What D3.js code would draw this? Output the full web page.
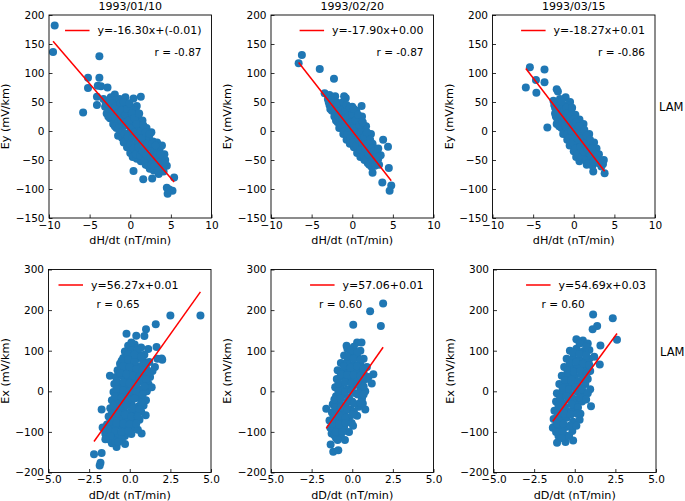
<!DOCTYPE html>
<html><head><meta charset="utf-8">
<script src="https://cdn.jsdelivr.net/npm/d3@7"></script>
<style>
body{margin:0;background:#fff;}
text{font-family:"DejaVu Sans",sans-serif;}
</style></head>
<body><svg id="c" width="685" height="501"></svg>
<script>
// ---------- data ----------
const titles = ["1993/01/10", "1993/02/20", "1993/03/15"];
const rowLabel = "LAM";
const xLabels = ["dH/dt (nT/min)", "dD/dt (nT/min)"];
const yLabels = ["Ey (mV/km)", "Ex (mV/km)"];
const slopes = [-16.30, -17.90, -18.27, 56.27, 57.06, 54.69];
const intercepts = [-0.01, 0.00, 0.01, 0.01, 0.01, 0.03];
const legendLabels = ["y=-16.30x+(-0.01)", "y=-17.90x+0.00", "y=-18.27x+0.01",
                      "y=56.27x+0.01", "y=57.06+0.01", "y=54.69x+0.03"];
const rLabels = ["r = -0.87", "r = -0.87", "r = -0.86", "r = 0.65", "r = 0.60", "r = 0.60"];
const topXTicks = [-10, -5, 0, 5, 10];
const topYTicks = [-150, -100, -50, 0, 50, 100, 150, 200];
const botXTicks = [-5, -2.5, 0, 2.5, 5];
const botYTicks = [-200, -100, 0, 100, 200, 300];

const ey0110 = [
[-9.3,182],[-9.5,136],[-3.8,129],[-5.2,92],[-3.8,92],[-5.2,74],[-4.0,78],[-3.6,77],[-2.8,75],[-5.8,32],[-4.1,59],[-4.1,45],[0.4,56],[1.3,59],[-1.9,63],[0.8,43],
[0.4,-69],[1.6,-83],[2.7,-82],[3.5,-74],[4.5,-60],[5.4,-80],[4.5,-98],[4.6,-108],[5.2,-103],[4.8,-101],[2.7,-40],[3.7,-44],[4.1,-62],[3.2,-62],[4.3,-50],
[-3.3,55],[-3.1,42],[-2.9,30],[-2.8,50],[-2.6,38],[-2.5,22],[-2.4,58],[-2.3,45],[-2.2,30],[-2.1,12],[-2.0,40],[-1.9,52],[-1.8,22],[-1.7,5],[-1.7,35],[-1.6,47],[-1.5,-8],[-1.5,15],[-1.4,28],[-1.3,55],[-1.3,40],[-1.2,3],[-1.1,20],[-1.0,-12],[-1.0,48],[-0.9,32],[-0.9,8],[-0.8,-20],[-0.7,15],[-0.7,40],[-0.6,58],[-0.5,-5],[-0.5,25],[-0.4,-28],[-0.3,10],[-0.3,45],[-0.2,32],[-0.1,-15],[0.0,0],[0.0,-38],[0.1,20],[0.1,40],[0.2,-25],[0.3,8],[0.3,-45],[0.4,28],[0.5,-10],[0.6,-32],[0.6,15],[0.7,35],[0.8,-48],[0.8,0],[0.9,-20],[1.0,22],[1.1,-38],[1.1,8],[1.2,-8],[1.3,-52],[1.4,-25],[1.5,18],[1.6,-5],[1.7,-40],[1.8,-15],[1.9,-58],[2.0,5],[2.0,-30],[2.2,-48],[2.3,-12],[2.4,-65],[2.5,-28],[2.6,-2],[2.7,-52],[2.8,-18],[2.9,-68],[3.0,-35],[3.2,-50],[3.3,-20],[3.5,-60],[3.6,-32],[3.8,-48],[3.9,-25],[4.1,-70],[4.2,-40],
[-3.0,48],[-2.7,25],[-2.5,52],[-2.2,48],[-2.0,28],[-1.9,8],[-1.8,42],[-1.6,30],[-1.4,5],[-1.2,48],[-1.1,35],[-1.0,0],[-0.9,22],[-0.8,50],[-0.7,-5],[-0.6,28],[-0.5,12],[-0.4,38],[-0.3,-10],[-0.2,18],[-0.1,48],[0.0,-22],[0.1,5],[0.2,30],[0.3,-12],[0.4,-30],[0.5,22],[0.6,-2],[0.7,-40],[0.8,12],[0.9,-10],[1.0,-28],[1.1,30],[1.2,-42],[1.3,0],[1.4,-12],[1.5,-35],[1.6,10],[1.7,-25],[1.8,-50],[1.9,-2],[2.0,-42],[2.1,-22],[2.2,-60],[2.4,-5],[2.5,-45],[2.6,-58],[2.7,-22],[2.9,-45],[3.0,-60],[3.1,-25],[3.3,-40],[3.4,-68],[3.7,-40],[4.0,-55]
];
const ey0220 = [
[-6.2,131],[-6.6,117],[-4.0,107],[-2.25,90],[-3.4,65],[-2.8,62],[-2.1,60],[-0.8,57],[-1.0,60],[1.15,43],[3.8,-15],[4.4,-27],[4.5,-64],[3.7,-89],[4.8,-94],[4.6,-103],[2.8,-56],[2.5,-72],[3.2,-48],
[-3.0,55],[-2.8,45],[-2.6,52],[-2.5,35],[-2.3,42],[-2.2,25],[-2.0,50],[-1.9,32],[-1.8,15],[-1.7,40],[-1.6,5],[-1.5,25],[-1.4,48],[-1.3,12],[-1.2,35],[-1.1,-5],[-1.0,20],[-1.0,45],[-0.9,5],[-0.8,30],[-0.7,-15],[-0.6,15],[-0.5,38],[-0.5,-2],[-0.4,22],[-0.3,-22],[-0.2,8],[-0.1,30],[0.0,-10],[0.0,42],[0.1,15],[0.2,-28],[0.3,0],[0.3,28],[0.4,-15],[0.5,35],[0.6,-38],[0.6,10],[0.7,-5],[0.8,20],[0.9,-25],[1.0,-45],[1.0,5],[1.1,-12],[1.2,25],[1.3,-32],[1.4,-2],[1.5,-50],[1.6,-18],[1.7,8],[1.8,-38],[1.9,-55],[2.0,-10],[2.1,-28],[2.2,-45],[2.3,-5],[2.4,-62],[2.5,-22],[2.6,-40],[2.8,-30],[2.9,-52],[3.1,-38],[3.3,-58],[3.5,-42],
[-2.9,50],[-2.7,38],[-2.4,48],[-2.1,35],[-2.0,18],[-1.8,48],[-1.7,25],[-1.5,10],[-1.4,35],[-1.2,20],[-1.1,50],[-1.0,0],[-0.9,35],[-0.8,12],[-0.7,45],[-0.6,-5],[-0.5,25],[-0.4,5],[-0.3,40],[-0.2,-12],[-0.1,15],[0.0,30],[0.1,-20],[0.2,5],[0.2,38],[0.4,18],[0.5,-25],[0.6,-5],[0.7,28],[0.8,-15],[0.9,10],[1.0,-32],[1.1,-2],[1.2,-20],[1.3,15],[1.4,-42],[1.5,-10],[1.6,-30],[1.7,-48],[1.8,-2],[1.9,-22],[2.0,-40],[2.1,-58],[2.2,-15],[2.4,-30],[2.5,-50],[2.7,-35],[2.8,-60],[3.0,-45],[3.2,-30]
];
const ey0315 = [
[-5.4,110],[-5.9,75],[-3.6,106],[-4.65,88],[-4.6,66],[-3.6,84],[-3.25,6],[-2.1,72],[-1.95,68],[-1.0,58],[-0.45,50],[3.7,-50],[3.8,-73],[2.4,-70],[3.4,-61],[3.6,-57],
[-2.5,52],[-2.3,40],[-2.2,25],[-2.1,12],[-2.0,48],[-1.9,32],[-1.8,18],[-1.7,55],[-1.6,38],[-1.5,5],[-1.4,25],[-1.3,45],[-1.2,12],[-1.1,-2],[-1.0,32],[-0.9,18],[-0.8,-15],[-0.8,45],[-0.7,5],[-0.6,28],[-0.5,-25],[-0.4,12],[-0.3,38],[-0.2,-5],[-0.1,22],[0.0,-35],[0.0,8],[0.1,-15],[0.2,28],[0.3,-2],[0.3,-45],[0.4,15],[0.5,-25],[0.6,5],[0.7,-52],[0.7,20],[0.8,-12],[0.9,-35],[1.0,0],[1.1,-22],[1.2,12],[1.3,-48],[1.4,-8],[1.5,-30],[1.6,-58],[1.7,-15],[1.8,-40],[1.9,-5],[2.0,-52],[2.1,-25],[2.3,-60],[2.4,-38],[2.5,-20],[2.7,-48],[2.8,-30],[3.0,-55],[3.1,-40],
[-2.4,45],[-2.3,30],[-2.0,20],[-1.9,42],[-1.8,8],[-1.6,28],[-1.5,50],[-1.4,15],[-1.3,-5],[-1.2,35],[-1.1,22],[-1.0,8],[-0.9,40],[-0.8,-5],[-0.7,30],[-0.6,15],[-0.5,-12],[-0.4,25],[-0.3,0],[-0.2,40],[-0.1,-20],[0.0,20],[0.1,-2],[0.2,-30],[0.3,15],[0.4,-12],[0.5,-40],[0.6,-15],[0.7,8],[0.8,-28],[0.9,-5],[1.0,-45],[1.1,-12],[1.2,-35],[1.3,2],[1.4,-22],[1.5,-50],[1.6,-8],[1.7,-32],[1.8,-55],[2.0,-15],[2.1,-42],[2.2,-30],[2.4,-52],[2.6,-40],[2.9,-42],[3.2,-50]
];
const ex0110 = [
[4.35,187],[2.5,187],[1.6,165],[1.0,153],[-0.2,142],[0.4,137],[0.9,136],[-1.22,38],[-1.73,-45],[-1.67,-89],[-2.2,-155],[-1.73,-152],[-1.8,-176],[-1.85,-183],[-0.29,-130],[-0.81,-137],[0.98,-59],[0.73,-104],[1.65,109],[1.14,104],[1.96,81],[1.55,60],[1.7,80],[2.0,78],[-1.5,-105],[-1.1,-128],
[-0.1,112],[0.3,115],[0.7,108],[-0.3,98],[0.1,100],[0.5,95],[0.9,90],[-0.4,82],[0.0,85],[0.4,80],[0.8,78],[1.2,72],[-0.6,68],[-0.2,70],[0.2,65],[0.6,62],[1.0,58],[1.4,50],[-0.75,52],[-0.35,55],[0.05,50],[0.45,45],[0.85,42],[1.25,35],[-0.85,35],[-0.45,38],[-0.05,30],[0.35,28],[0.75,25],[1.15,18],[-0.95,18],[-0.55,15],[-0.15,10],[0.25,12],[0.65,5],[1.05,0],[1.35,10],[-1.0,-2],[-0.6,-5],[-0.2,-12],[0.2,-8],[0.6,-15],[1.0,-22],[-1.1,-22],[-0.7,-28],[-0.3,-25],[0.1,-32],[0.5,-38],[0.85,-35],[-1.2,-42],[-0.8,-48],[-0.4,-45],[0.0,-52],[0.4,-58],[0.7,-50],[-1.3,-62],[-0.9,-68],[-0.5,-65],[-0.1,-72],[0.3,-75],[0.6,-70],[-1.4,-82],[-1.0,-88],[-0.6,-85],[-0.2,-92],[0.2,-90],[0.5,-95],[-1.5,-100],[-1.1,-105],[-0.7,-108],[-0.3,-110],[0.1,-105],[-1.3,-118],[-0.9,-122],[-0.5,-118],
[0.1,120],[0.5,102],[-0.1,92],[0.3,90],[0.7,85],[-0.5,75],[-0.1,78],[0.3,72],[1.0,68],[-0.4,62],[0.0,60],[0.4,55],[0.8,52],[1.2,45],[-0.6,45],[-0.2,42],[0.2,38],[0.6,35],[1.0,30],[-0.8,25],[-0.4,22],[0.0,20],[0.4,18],[0.9,12],[-0.8,5],[-0.4,2],[0.0,0],[0.4,-2],[0.8,-8],[-0.9,-12],[-0.5,-15],[-0.1,-20],[0.3,-18],[0.7,-28],[-1.0,-35],[-0.6,-38],[-0.2,-35],[0.2,-42],[0.6,-45],[-1.1,-55],[-0.7,-55],[-0.3,-58],[0.1,-62],[0.5,-62],[-1.2,-75],[-0.8,-78],[-0.4,-80],[0.0,-82],[0.4,-80],[-1.3,-95],[-0.9,-98],[-0.5,-100],[-0.1,-98],[-1.2,-110],[-0.7,-125],[-1.5,-118],[-1.6,-90]
];
const ex0220 = [
[1.9,216],[1.1,197],[1.76,161],[0.06,164],[-0.35,112],[0.3,120],[0.57,120],[-1.6,-43],[1.3,42],[1.2,19],[-1.17,-149],[-1.33,-131],[-1.27,-104],[-0.04,-78],[-0.86,-145],[0.8,-45],[-1.0,-115],
[-0.3,105],[0.1,110],[0.5,100],[-0.5,88],[-0.1,92],[0.3,85],[0.7,80],[-0.7,70],[-0.3,72],[0.1,65],[0.5,70],[0.9,60],[-0.9,52],[-0.5,55],[-0.1,48],[0.3,52],[0.7,45],[1.0,35],[-0.95,30],[-0.6,35],[-0.2,28],[0.2,32],[0.6,25],[-1.05,10],[-0.7,12],[-0.3,5],[0.1,15],[0.5,8],[0.8,0],[-1.0,-12],[-0.6,-8],[-0.2,-15],[0.2,-5],[0.6,-18],[-1.2,-32],[-0.8,-28],[-0.4,-35],[0.0,-25],[0.4,-38],[0.65,-30],[-1.25,-52],[-0.9,-48],[-0.5,-55],[-0.1,-45],[0.3,-60],[-1.4,-72],[-1.0,-70],[-0.6,-75],[-0.2,-65],[0.05,-85],[-1.35,-90],[-0.9,-92],[-0.5,-88],[-0.2,-100],[-1.1,-108],[-0.7,-112],[-0.45,-120],
[-0.1,100],[0.3,95],[-0.3,85],[0.1,80],[0.5,78],[-0.5,62],[-0.1,58],[0.3,62],[0.7,55],[-0.7,42],[-0.3,40],[0.1,40],[0.5,38],[0.85,30],[-0.85,20],[-0.45,22],[-0.05,20],[0.35,18],[0.7,12],[-0.85,0],[-0.45,-2],[-0.05,2],[0.35,-8],[0.7,-8],[-1.1,-20],[-0.7,-18],[-0.3,-25],[0.1,-30],[0.5,-28],[-1.05,-40],[-0.7,-40],[-0.3,-45],[0.1,-50],[-1.15,-62],[-0.8,-60],[-0.4,-65],[0.0,-58],[-1.2,-80],[-0.8,-82],[-0.4,-78],[-1.0,-100],[-0.6,-100],[-0.9,-120]
];
const ex0315 = [
[2.34,180],[1.13,189],[2.6,127],[1.38,161],[1.1,153],[1.58,113],[1.54,66],[1.0,-37],[-0.1,-121],[-1.09,-127],[-0.57,-125],[-1.29,-88],[0.9,80],[1.2,85],
[0.1,128],[0.5,125],[0.8,118],[-0.3,100],[0.1,105],[0.5,98],[0.9,102],[-0.5,80],[-0.1,82],[0.3,78],[0.7,75],[-0.65,60],[-0.25,58],[0.15,62],[0.55,55],[0.95,50],[-0.8,38],[-0.4,40],[0.0,35],[0.4,42],[0.8,30],[-0.95,18],[-0.55,15],[-0.15,20],[0.25,12],[0.65,18],[0.95,5],[-1.1,-5],[-0.7,-2],[-0.3,-8],[0.1,0],[0.5,-10],[-1.15,-25],[-0.75,-28],[-0.35,-20],[0.05,-30],[0.45,-25],[-1.25,-48],[-0.85,-45],[-0.45,-50],[-0.05,-42],[0.35,-55],[-1.3,-68],[-0.9,-70],[-0.5,-65],[-0.1,-75],[0.3,-70],[-1.35,-90],[-0.95,-95],[-0.55,-88],[-0.15,-98],[-1.0,-110],[-0.6,-108],
[0.3,118],[0.7,110],[-0.1,95],[0.3,92],[0.7,88],[-0.3,70],[0.1,72],[0.5,68],[0.9,65],[-0.45,50],[-0.05,48],[0.35,50],[0.75,45],[-0.6,28],[-0.2,28],[0.2,25],[0.6,32],[-0.75,8],[-0.35,5],[0.05,10],[0.45,5],[0.8,-5],[-0.9,-15],[-0.5,-12],[-0.1,-18],[0.3,-15],[0.7,-20],[-1.0,-35],[-0.6,-38],[-0.2,-32],[0.2,-40],[-1.05,-58],[-0.65,-55],[-0.25,-58],[0.15,-55],[-1.1,-80],[-0.7,-80],[-0.3,-85],[0.1,-85],[-1.15,-100],[-0.75,-100],[-0.35,-110],[-0.8,-115]
];

// ---------- layout ----------
const series = [ey0110, ey0220, ey0315, ex0110, ex0220, ex0315];
const lefts = [[49, 271, 492.5], [48.5, 271, 493.5]];
const tops = [15, 269.5];
const W = 162.5, H = 203;
const legendSide = ["right", "right", "right", "left", "right", "right"];

const svg = d3.select("#c");
const FS = 10.5;

series.forEach((pts, i) => {
  const row = Math.floor(i / 3), col = i % 3;
  const x0 = lefts[row][col], y0 = tops[row];
  const xDom = row === 0 ? [-10, 10] : [-5, 5];
  const yDom = row === 0 ? [-150, 200] : [-200, 300];
  const xs = d3.scaleLinear().domain(xDom).range([0, W]);
  const ys = d3.scaleLinear().domain(yDom).range([H, 0]);
  const g = svg.append("g").attr("transform", `translate(${x0},${y0})`);

  // points
  g.append("g").selectAll("circle").data(pts).join("circle")
    .attr("cx", d => xs(d[0])).attr("cy", d => ys(d[1])).attr("r", 4)
    .attr("fill", "#1f77b4");

  // regression line
  const xmin = d3.min(pts, d => d[0]), xmax = d3.max(pts, d => d[0]);
  const lineData = [xmin, xmax].map(v => [v, slopes[i] * v + intercepts[i]]);
  g.append("path").attr("d", d3.line().x(d => xs(d[0])).y(d => ys(d[1]))(lineData))
    .attr("stroke", "red").attr("stroke-width", 1.5).attr("fill", "none");

  // axes (inward ticks)
  const fmt = row === 0 ? d3.format("d") : d3.format(".1f");
  const xa = g.append("g").attr("transform", `translate(0,${H})`)
    .call(d3.axisBottom(xs).tickValues(row === 0 ? topXTicks : botXTicks).tickFormat(fmt).tickSizeInner(-3.5).tickSizeOuter(0).tickPadding(3.5));
  const ya = g.append("g")
    .call(d3.axisLeft(ys).tickValues(row === 0 ? topYTicks : botYTicks).tickSizeInner(-3.5).tickSizeOuter(0).tickPadding(4.5));
  [xa, ya].forEach(a => {
    a.select(".domain").remove();
    a.selectAll("text").attr("font-size", FS).attr("fill", "#000").style("font-family", "DejaVu Sans");
    a.selectAll("line").attr("stroke", "#000").attr("stroke-width", 0.8);
  });

  // frame
  g.append("rect").attr("x", 0).attr("y", 0).attr("width", W).attr("height", H)
    .attr("fill", "none").attr("stroke", "#000").attr("stroke-width", 0.9);

  // axis labels
  g.append("text").attr("x", W / 2).attr("y", H + 26).attr("text-anchor", "middle")
    .attr("font-size", 11.2).text(xLabels[row]);
  g.append("text").attr("transform", `translate(-40,${H / 2}) rotate(-90)`)
    .attr("text-anchor", "middle").attr("font-size", 11.2).text(yLabels[row]);

  // title
  if (row === 0) {
    g.append("text").attr("x", W / 2).attr("y", -5).attr("text-anchor", "middle")
      .attr("font-size", 11).text(titles[col]);
  }

  // legend
  const ly = 15.5;
  const lt = g.append("text").attr("y", ly).attr("dy", "0.35em").attr("font-size", 11)
    .text(legendLabels[i]);
  const tw = lt.node().getComputedTextLength();
  let tx;
  if (legendSide[i] === "right") tx = W - 10 - tw; else tx = 42.5;
  lt.attr("x", tx);
  g.append("line").attr("x1", tx - 32.5).attr("x2", tx - 8).attr("y1", ly).attr("y2", ly)
    .attr("stroke", "red").attr("stroke-width", 1.5);

  // r text
  if (row === 0) {
    g.append("text").attr("x", W - 10).attr("y", 37).attr("dy", "0.35em")
      .attr("text-anchor", "end").attr("font-size", 10.5).text(rLabels[i]);
  } else {
    g.append("text").attr("x", 48).attr("y", 35).attr("dy", "0.35em")
      .attr("font-size", 10.5).text(rLabels[i]);
  }

  // row label
  if (col === 2) {
    g.append("text").attr("x", W + 4).attr("y", row === 0 ? 92 : 82).attr("dy", "0.35em")
      .attr("font-size", 11.5).text(rowLabel);
  }
});
</script></body></html>
